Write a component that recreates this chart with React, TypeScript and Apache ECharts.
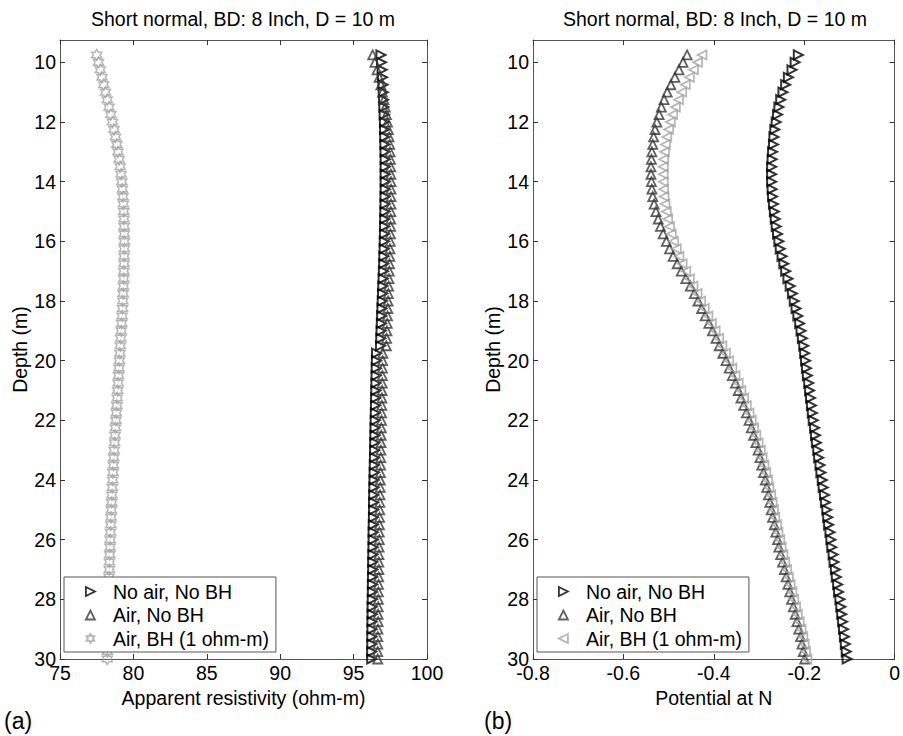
import React, { useEffect, useRef } from 'react';
import * as echarts from 'echarts';

// Depth samples (m)
const depth = [
  9.75, 10, 10.25, 10.5, 10.75, 11, 11.25, 11.5, 11.75, 12,
  12.25, 12.5, 12.75, 13, 13.25, 13.5, 13.75, 14, 14.25, 14.5,
  14.75, 15, 15.25, 15.5, 15.75, 16, 16.25, 16.5, 16.75, 17,
  17.25, 17.5, 17.75, 18, 18.25, 18.5, 18.75, 19, 19.25, 19.5,
  19.75, 20, 20.25, 20.5, 20.75, 21, 21.25, 21.5, 21.75, 22,
  22.25, 22.5, 22.75, 23, 23.25, 23.5, 23.75, 24, 24.25, 24.5,
  24.75, 25, 25.25, 25.5, 25.75, 26, 26.25, 26.5, 26.75, 27,
  27.25, 27.5, 27.75, 28, 28.25, 28.5, 28.75, 29, 29.25, 29.5,
  29.75, 30,
];

// Panel (a): apparent resistivity (ohm-m)
const resNoAirNoBH = [
  96.86, 96.9, 96.94, 96.97, 97.0, 97.02, 97.04, 97.06, 97.08, 97.1,
  97.11, 97.12, 97.13, 97.14, 97.15, 97.15, 97.15, 97.15, 97.15, 97.14,
  97.14, 97.13, 97.12, 97.11, 97.1, 97.09, 97.08, 97.06, 97.05, 97.03,
  97.01, 96.99, 96.97, 96.95, 96.93, 96.91, 96.89, 96.87, 96.85, 96.83,
  96.56, 96.55, 96.54, 96.53, 96.52, 96.51, 96.5, 96.49, 96.48, 96.47,
  96.46, 96.45, 96.44, 96.43, 96.42, 96.41, 96.4, 96.39, 96.38, 96.37,
  96.36, 96.36, 96.35, 96.34, 96.33, 96.33, 96.32, 96.31, 96.3, 96.3,
  96.29, 96.28, 96.28, 96.27, 96.26, 96.26, 96.25, 96.25, 96.24, 96.24,
  96.23, 96.23,
];
const resAirNoBH = [
  96.3, 96.45, 96.6, 96.74, 96.86, 96.97, 97.07, 97.16, 97.24, 97.31,
  97.37, 97.42, 97.46, 97.49, 97.51, 97.53, 97.54, 97.55, 97.55, 97.55,
  97.55, 97.54, 97.53, 97.52, 97.51, 97.5, 97.48, 97.47, 97.45, 97.43,
  97.41, 97.39, 97.37, 97.35, 97.33, 97.31, 97.29, 97.27, 97.25, 97.23,
  96.99, 96.98, 96.97, 96.96, 96.95, 96.94, 96.93, 96.92, 96.91, 96.9,
  96.89, 96.88, 96.87, 96.86, 96.85, 96.84, 96.83, 96.82, 96.81, 96.8,
  96.79, 96.78, 96.77, 96.76, 96.75, 96.75, 96.74, 96.73, 96.72, 96.72,
  96.71, 96.7, 96.69, 96.69, 96.68, 96.67, 96.67, 96.66, 96.65, 96.65,
  96.64, 96.64,
];
const resAirBH = [
  77.5, 77.62, 77.74, 77.86, 77.98, 78.1, 78.22, 78.34, 78.46, 78.57,
  78.68, 78.78, 78.87, 78.95, 79.03, 79.1, 79.16, 79.21, 79.25, 79.29,
  79.32, 79.34, 79.36, 79.37, 79.38, 79.38, 79.38, 79.37, 79.36, 79.35,
  79.34, 79.32, 79.3, 79.28, 79.26, 79.23, 79.2, 79.17, 79.14, 79.11,
  79.08, 79.05, 79.02, 78.99, 78.96, 78.93, 78.9, 78.87, 78.84, 78.81,
  78.78, 78.75, 78.72, 78.69, 78.66, 78.64, 78.61, 78.59, 78.56, 78.54,
  78.52, 78.5, 78.48, 78.46, 78.44, 78.42, 78.41, 78.39, 78.37, 78.36,
  78.34, 78.33, 78.32, 78.3, 78.29, 78.28, 78.27, 78.26, 78.25, 78.24,
  78.23, 78.22,
];

// Panel (b): potential at N
const potNoAirNoBH = [
  -0.213, -0.22, -0.227, -0.235, -0.241, -0.247, -0.252, -0.256, -0.259, -0.262,
  -0.265, -0.267, -0.268, -0.27, -0.271, -0.272, -0.272, -0.272, -0.271, -0.27,
  -0.268, -0.266, -0.264, -0.262, -0.259, -0.256, -0.253, -0.249, -0.245, -0.241,
  -0.236, -0.231, -0.226, -0.222, -0.218, -0.214, -0.21, -0.207, -0.204, -0.201,
  -0.199, -0.197, -0.195, -0.193, -0.19, -0.188, -0.186, -0.184, -0.182, -0.18,
  -0.177, -0.175, -0.173, -0.17, -0.168, -0.165, -0.163, -0.16, -0.158, -0.155,
  -0.153, -0.15, -0.148, -0.146, -0.143, -0.141, -0.139, -0.136, -0.134, -0.131,
  -0.129, -0.126, -0.124, -0.121, -0.119, -0.117, -0.115, -0.113, -0.111, -0.109,
  -0.107, -0.105,
];
const potAirNoBH = [
  -0.459, -0.468, -0.477, -0.486, -0.495, -0.503, -0.51, -0.516, -0.521, -0.526,
  -0.53, -0.533, -0.535, -0.537, -0.538, -0.539, -0.539, -0.538, -0.537, -0.535,
  -0.532, -0.528, -0.523, -0.518, -0.512, -0.505, -0.498, -0.49, -0.481, -0.472,
  -0.462, -0.452, -0.443, -0.435, -0.427, -0.419, -0.411, -0.403, -0.395, -0.388,
  -0.38, -0.373, -0.366, -0.359, -0.352, -0.346, -0.34, -0.334, -0.328, -0.322,
  -0.317, -0.312, -0.307, -0.302, -0.298, -0.294, -0.29, -0.286, -0.283, -0.279,
  -0.276, -0.273, -0.27, -0.266, -0.263, -0.259, -0.256, -0.252, -0.248, -0.244,
  -0.24, -0.236, -0.232, -0.228, -0.224, -0.22, -0.216, -0.212, -0.208, -0.205,
  -0.202, -0.199,
];
const potAirBH = [
  -0.426, -0.436, -0.445, -0.454, -0.463, -0.471, -0.478, -0.485, -0.491, -0.496,
  -0.5, -0.504, -0.507, -0.509, -0.511, -0.512, -0.512, -0.512, -0.511, -0.51,
  -0.508, -0.505, -0.502, -0.498, -0.494, -0.489, -0.483, -0.477, -0.47, -0.462,
  -0.454, -0.446, -0.437, -0.429, -0.421, -0.413, -0.405, -0.397, -0.389, -0.382,
  -0.374, -0.367, -0.36, -0.353, -0.346, -0.34, -0.334, -0.328, -0.322, -0.317,
  -0.312, -0.307, -0.302, -0.297, -0.293, -0.289, -0.285, -0.281, -0.278, -0.274,
  -0.271, -0.268, -0.265, -0.261, -0.258, -0.254, -0.251, -0.247, -0.243, -0.239,
  -0.235, -0.231, -0.227, -0.223, -0.219, -0.215, -0.211, -0.207, -0.203, -0.2,
  -0.197, -0.194,
];

const depthTicks = [10, 12, 14, 16, 18, 20, 22, 24, 26, 28, 30];
const seriesNames = ['No air, No BH', 'Air, No BH', 'Air, BH (1 ohm-m)'];
const panelTitle = 'Short normal, BD: 8 Inch, D = 10 m';
const xNames = ['Apparent resistivity (ohm-m)', 'Potential at N'];
const panelTags = ['(a)', '(b)'];

const FONT = '"Liberation Sans", Arial, Helvetica, sans-serif';
const FS = 19.5;
const TRI_RIGHT = 'path://M0,0L10,5L0,10Z';
const TRI_LEFT = 'path://M10,0L0,5L10,10Z';
const TRI_UP = 'path://M5,0L10,10L0,10Z';
const HEX =
  'path://M1,0L0.711,0.5L0.134,0.5L0.423,1L0.134,1.5L0.711,1.5L1,2L1.289,1.5L1.866,1.5L1.577,1L1.866,0.5L1.289,0.5Z';

const C_BLACK = '#000000';
const C_DARK = '#383838';
const C_LIGHT = '#a2a2a2';

const GRIDS = [
  { left: 60, top: 40, width: 367, height: 619 },
  { left: 533, top: 40, width: 364, height: 619 },
];

const axisLineStyle = { show: true, onZero: false, lineStyle: { color: '#555', width: 1 } };
const tickStyle = { show: true, inside: true, length: 5, lineStyle: { color: '#333', width: 1 } };
const labelFont = { fontSize: FS, color: '#000', fontFamily: FONT };

function makeX(gridIndex: number, min: number, max: number, interval: number, name: string) {
  return [
    {
      type: 'value', gridIndex, min, max, interval, position: 'bottom',
      name, nameLocation: 'middle', nameGap: 25,
      nameTextStyle: { ...labelFont },
      axisLine: axisLineStyle, axisTick: tickStyle,
      axisLabel: { ...labelFont, margin: 4 },
      splitLine: { show: false },
    },
    {
      type: 'value', gridIndex, min, max, interval, position: 'top',
      axisLine: axisLineStyle, axisTick: tickStyle,
      axisLabel: { show: false }, splitLine: { show: false },
    },
  ];
}

function makeY(gridIndex: number, nameGap: number) {
  return [
    {
      type: 'value', gridIndex, inverse: true, min: 9.25, max: 30, position: 'left',
      name: 'Depth (m)', nameLocation: 'middle', nameGap,
      nameTextStyle: { ...labelFont },
      axisLine: axisLineStyle,
      axisTick: { ...tickStyle, customValues: depthTicks },
      axisLabel: { ...labelFont, margin: 4, customValues: depthTicks },
      splitLine: { show: false },
    },
    {
      type: 'value', gridIndex, inverse: true, min: 9.25, max: 30, position: 'right',
      axisLine: axisLineStyle,
      axisTick: { ...tickStyle, customValues: depthTicks },
      axisLabel: { show: false }, splitLine: { show: false },
    },
  ];
}

function scatter(name: string, xIdx: number, yIdx: number, vals: number[], symbol: string, color: string, size: number | number[], bw: number) {
  return {
    type: 'scatter', name, xAxisIndex: xIdx, yAxisIndex: yIdx,
    data: vals.map((v, i) => [v, depth[i]]),
    symbol, symbolSize: size,
    itemStyle: { color: 'rgba(0,0,0,0)', borderColor: color, borderWidth: bw },
    emphasis: { disabled: true },
    silent: true,
  };
}

function legendFor(left: number, icons: string[]) {
  const colors = [C_BLACK, C_DARK, C_LIGHT];
  return {
    show: true, orient: 'vertical', left, top: 577,
    backgroundColor: '#fff', borderColor: '#555', borderWidth: 1,
    padding: [4, 7, 3, 21], itemGap: 2.5, itemWidth: 9, itemHeight: 9,
    selectedMode: false,
    textStyle: { ...labelFont, lineHeight: 21, padding: [0, 0, 0, 13] },
    data: seriesNames.map((n, i) => ({
      name: n, icon: icons[i],
      itemStyle: { color: 'rgba(0,0,0,0)', borderColor: colors[i], borderWidth: 1.8 },
    })),
  };
}

export default function App() {
  const ref = useRef<HTMLDivElement>(null);
  useEffect(() => {
    if (!ref.current) return;
    const chart = echarts.init(ref.current, null, { renderer: 'svg' });
    const option = {
      animation: false,
      backgroundColor: '#fff',
      textStyle: { fontFamily: FONT },
      grid: GRIDS,
      xAxis: [...makeX(0, 75, 100, 5, xNames[0]), ...makeX(1, -0.8, 0, 0.2, xNames[1])],
      yAxis: [...makeY(0, 30), ...makeY(1, 25)],
      legend: [
        legendFor(64, [TRI_RIGHT, TRI_UP, HEX]),
        legendFor(537, [TRI_RIGHT, TRI_UP, TRI_LEFT]),
      ],
      series: [
        scatter(seriesNames[0], 0, 0, resNoAirNoBH, TRI_RIGHT, C_BLACK, 9, 2),
        scatter(seriesNames[1], 0, 0, resAirNoBH, TRI_UP, C_DARK, 9, 1.8),
        scatter(seriesNames[2], 0, 0, resAirBH, HEX, C_LIGHT, [10, 11], 1.5),
        scatter(seriesNames[0], 2, 2, potNoAirNoBH, TRI_RIGHT, C_BLACK, 9, 2),
        scatter(seriesNames[1], 2, 2, potAirNoBH, TRI_UP, C_DARK, 9, 1.8),
        scatter(seriesNames[2], 2, 2, potAirBH, TRI_LEFT, C_LIGHT, 9, 1.7),
      ],
      graphic: [
        { type: 'text', x: 243, y: 19, style: { text: panelTitle, textAlign: 'center', textVerticalAlign: 'middle', fontSize: FS, fontFamily: FONT, fill: '#000' } },
        { type: 'text', x: 715, y: 19, style: { text: panelTitle, textAlign: 'center', textVerticalAlign: 'middle', fontSize: FS, fontFamily: FONT, fill: '#000' } },
        { type: 'text', x: 4, y: 721, style: { text: panelTags[0], textAlign: 'left', textVerticalAlign: 'middle', fontSize: 23, fontFamily: FONT, fill: '#000' } },
        { type: 'text', x: 484, y: 721, style: { text: panelTags[1], textAlign: 'left', textVerticalAlign: 'middle', fontSize: 23, fontFamily: FONT, fill: '#000' } },
      ],
    };
    chart.setOption(option as any);
    return () => chart.dispose();
  }, []);
  return <div ref={ref} style={{ position: 'fixed', left: 0, top: 0, width: 903, height: 736 }} />;
}
